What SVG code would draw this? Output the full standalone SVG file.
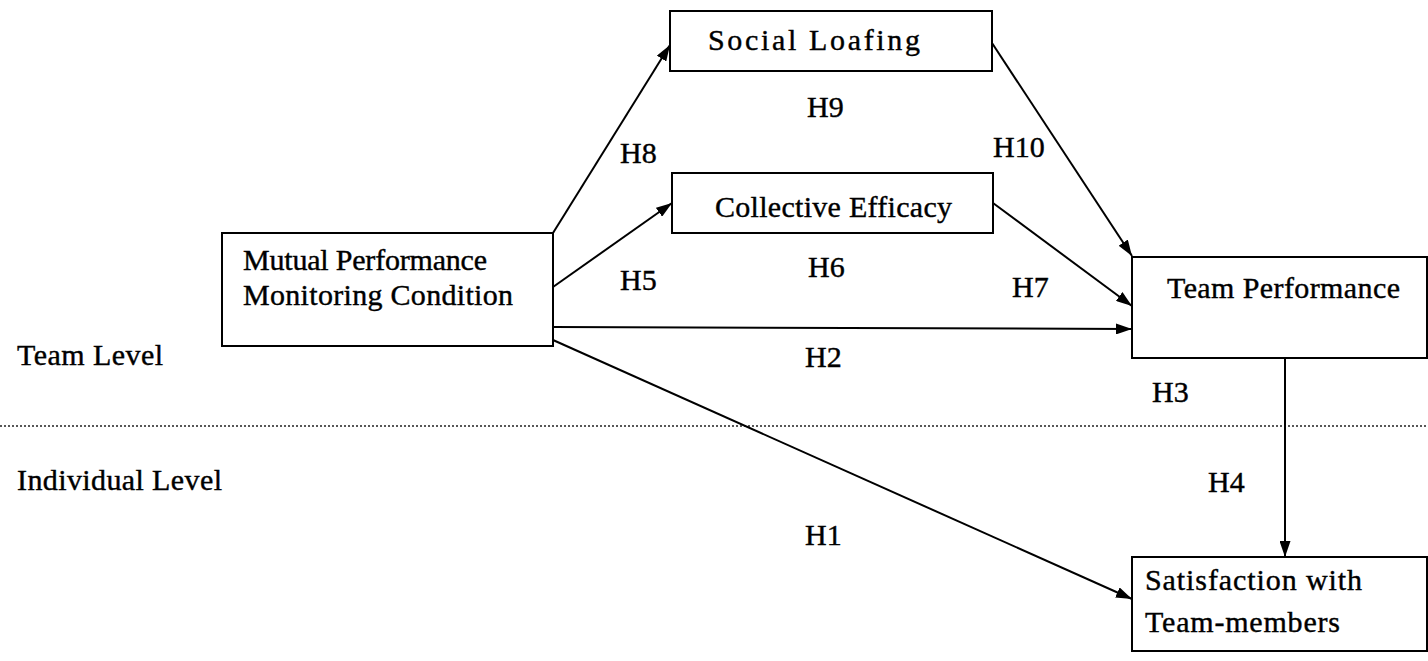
<svg xmlns="http://www.w3.org/2000/svg" width="1428" height="661" viewBox="0 0 1428 661">
<style>
.box{fill:#fff;stroke:#000;stroke-width:2}
.t{font-family:"Liberation Serif","Times New Roman",serif;font-size:30px;fill:#000;stroke:#000;stroke-width:0.4}
.lbl{font-family:"Liberation Serif","Times New Roman",serif;font-size:30px;fill:#000;stroke:#000;stroke-width:0.4}
.c{stroke:#000;stroke-width:2;fill:none;marker-end:url(#ah)}
</style>
<defs>
<marker id="ah" viewBox="0 0 16 11" refX="16" refY="5.5" markerWidth="16" markerHeight="11" markerUnits="userSpaceOnUse" orient="auto">
<path d="M0,0 L16,5.5 L0,11 Z" fill="#000"/>
</marker>
</defs>
<rect width="1428" height="661" fill="#fff"/>
<line x1="0" y1="426" x2="1428" y2="426" stroke="#222" stroke-width="1.5" stroke-dasharray="2 2"/>
<text class="t" x="17" y="365" textLength="146" lengthAdjust="spacing">Team Level</text>
<text class="t" x="17" y="490" textLength="205" lengthAdjust="spacing">Individual Level</text>
<g id="connectors">
<line class="c" x1="553" y1="233" x2="670" y2="45"/>
<line class="c" x1="553" y1="287" x2="672" y2="203"/>
<line class="c" x1="553" y1="327" x2="1132" y2="329"/>
<line class="c" x1="553" y1="340" x2="1132" y2="599"/>
<line class="c" x1="992" y1="43" x2="1132" y2="256"/>
<line class="c" x1="993" y1="203" x2="1132" y2="306"/>
<line class="c" x1="1285" y1="358" x2="1285" y2="557"/>
</g>
<g id="labels">
<text class="lbl" x="807" y="117">H9</text>
<text class="lbl" x="620" y="163">H8</text>
<text class="lbl" x="993" y="157">H10</text>
<text class="lbl" x="620" y="290">H5</text>
<text class="lbl" x="808" y="277">H6</text>
<text class="lbl" x="1012" y="297">H7</text>
<text class="lbl" x="805" y="367">H2</text>
<text class="lbl" x="1152" y="402">H3</text>
<text class="lbl" x="1208" y="492">H4</text>
<text class="lbl" x="805" y="545">H1</text>
</g>
<g id="social-loafing">
<rect class="box" x="670" y="11" width="322" height="60"/>
<text class="t" x="708" y="50" textLength="212" lengthAdjust="spacing">Social Loafing</text>
</g>
<g id="collective-efficacy">
<rect class="box" x="672" y="173" width="321" height="60"/>
<text class="t" x="715" y="217" textLength="237" lengthAdjust="spacing">Collective Efficacy</text>
</g>
<g id="mutual-performance-monitoring">
<rect class="box" x="222" y="233" width="331" height="113"/>
<text class="t" x="243" y="270" textLength="244" lengthAdjust="spacing">Mutual Performance</text>
<text class="t" x="243" y="305" textLength="270" lengthAdjust="spacing">Monitoring Condition</text>
</g>
<g id="team-performance">
<rect class="box" x="1132" y="257" width="295" height="101"/>
<text class="t" x="1167" y="298" textLength="233" lengthAdjust="spacing">Team Performance</text>
</g>
<g id="satisfaction">
<rect class="box" x="1132" y="557" width="295" height="94"/>
<text class="t" x="1145" y="590" textLength="217" lengthAdjust="spacing">Satisfaction with</text>
<text class="t" x="1145" y="632" textLength="195" lengthAdjust="spacing">Team-members</text>
</g>
</svg>
